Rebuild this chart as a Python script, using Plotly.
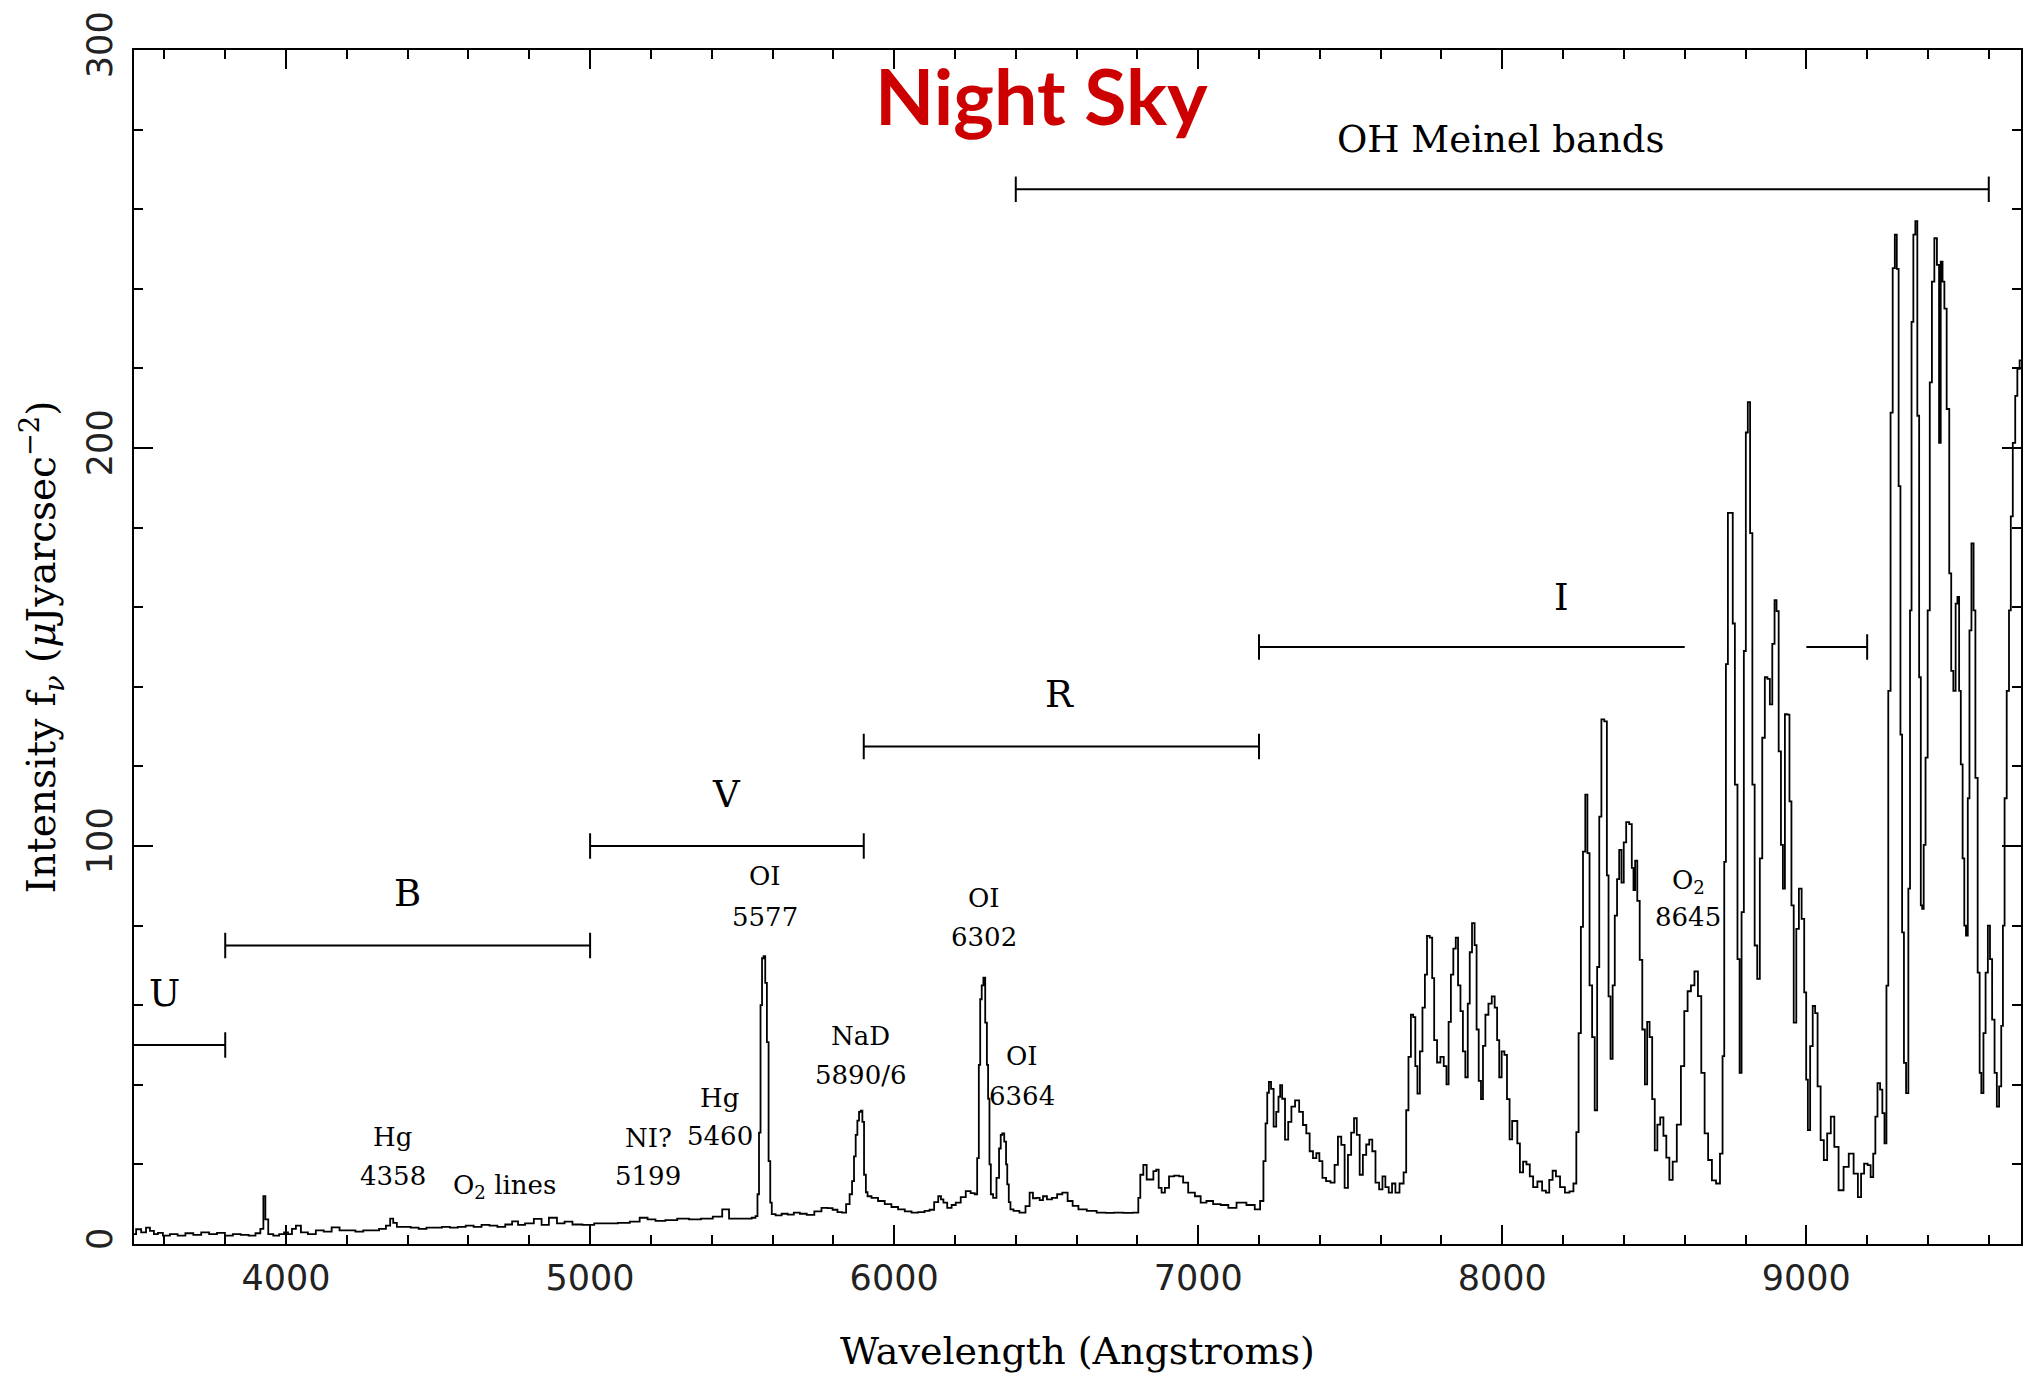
import plotly.graph_objects as go

# ---------------- data ----------------
wavelength = [
    3500, 3514, 3533, 3546, 3559, 3572, 3585, 3605, 3631, 3656, 3682, 3708, 3734, 3760, 3786, 3812,
    3838, 3864, 3890, 3909, 3922, 3929, 3935, 3948, 3968, 3987, 4000, 4013, 4026, 4039, 4059, 4085,
    4111, 4137, 4163, 4189, 4215, 4241, 4267, 4293, 4319, 4338, 4347, 4358, 4371, 4397, 4423, 4449,
    4475, 4500, 4526, 4552, 4578, 4604, 4630, 4656, 4682, 4708, 4734, 4753, 4773, 4799, 4831, 4850,
    4879, 4903, 4929, 4955, 4994, 5033, 5072, 5111, 5150, 5176, 5202, 5228, 5267, 5306, 5345, 5384,
    5423, 5446, 5468, 5500,
    5523, 5540, 5548, 5553, 5558, 5563, 5568, 5573, 5579, 5584, 5590, 5595, 5600, 5620, 5640, 5660,
    5680, 5700, 5725, 5750, 5772, 5790, 5805, 5822, 5835, 5849, 5858, 5865, 5871, 5876, 5882, 5887,
    5893, 5898, 5904, 5910, 5915, 5936, 5958, 5980, 6002, 6024, 6046, 6068, 6090, 6110, 6123, 6140,
    6150, 6158, 6166, 6183, 6195, 6210, 6228, 6243, 6260, 6270, 6276, 6281, 6285, 6291, 6296, 6303,
    6307, 6311, 6316, 6320, 6331, 6342, 6348, 6353, 6358, 6366, 6370, 6374, 6380, 6385, 6400, 6424,
    6440, 6451, 6462, 6473, 6484, 6495, 6510, 6528, 6544,
    6562, 6579, 6595, 6617, 6650, 6682, 6710, 6737, 6770, 6801, 6805, 6814, 6825, 6836, 6847, 6858,
    6866, 6874, 6885, 6896, 6912, 6930, 6945, 6956, 6978, 7000, 7016, 7038, 7060, 7088, 7110, 7142,
    7175, 7197, 7210, 7219, 7224, 7230, 7235, 7244, 7252, 7261, 7267, 7272, 7280, 7291, 7301, 7312,
    7325, 7339, 7350, 7361, 7372, 7383, 7394, 7403, 7414, 7427, 7443, 7454, 7465, 7476, 7487, 7498,
    7508, 7517, 7526, 7536, 7547, 7558, 7567, 7578, 7588, 7602,
    7610, 7621, 7632, 7643, 7654, 7670, 7681, 7687, 7696, 7703, 7711, 7717, 7725, 7733, 7742, 7749,
    7756, 7767, 7772, 7780, 7791, 7802, 7813, 7820, 7827, 7835, 7843, 7851, 7858, 7867, 7874, 7883,
    7890, 7896, 7905, 7913, 7918, 7927, 7933, 7940, 7949, 7960, 7971, 7979, 7987, 7993, 8003, 8011,
    8020, 8028, 8037, 8046, 8053, 8063, 8074, 8085, 8096, 8107, 8124, 8138, 8149, 8160, 8171, 8182,
    8198, 8214, 8228, 8240, 8247, 8255, 8262, 8269, 8277, 8283, 8291, 8300, 8308, 8316, 8322, 8330,
    8341, 8347, 8352, 8360, 8366, 8374, 8381, 8388, 8396, 8403, 8412, 8423, 8429, 8434, 8440, 8448,
    8456, 8465, 8473, 8480, 8489, 8497, 8506, 8514, 8525, 8535, 8544, 8555, 8566, 8582, 8593, 8604,
    8615, 8626, 8638,
    8649, 8660, 8671, 8683, 8696, 8710, 8722, 8727, 8733, 8738, 8746, 8755, 8761, 8769, 8778, 8783,
    8791, 8798, 8804, 8811, 8819, 8826, 8834, 8843, 8851, 8859, 8868, 8876, 8884, 8892, 8899, 8905,
    8913, 8920, 8926, 8933, 8941, 8948, 8954, 8963, 8971, 8980, 8989, 8997, 9002, 9008, 9017, 9025,
    9033, 9041, 9053, 9062, 9075, 9086, 9098, 9114, 9131, 9148, 9163, 9176,
    9184, 9196, 9207, 9216, 9224, 9230, 9238, 9247, 9253, 9261, 9266, 9273, 9281, 9287, 9295, 9300,
    9307, 9312, 9318, 9324, 9332, 9339, 9343, 9349, 9355, 9362, 9368, 9374, 9379, 9383, 9389, 9395,
    9403, 9409, 9417, 9425, 9434, 9439, 9445, 9451, 9457, 9466, 9474, 9479, 9488, 9494, 9500, 9505,
    9511, 9517, 9522, 9528, 9534, 9539, 9547, 9553, 9559, 9568, 9572, 9579, 9586, 9593, 9601, 9607,
    9615, 9623, 9630, 9638, 9644, 9649, 9655, 9663, 9670, 9675, 9683, 9691, 9697, 9706,
]
intensity = [
    2.5, 3.7, 2.9, 4.1, 3.3, 2.5, 2.8, 2.1, 2.5, 2.1, 2.7, 2.3, 2.9, 2.5, 2.8, 2.1,
    2.5, 2.3, 2.1, 2.7, 3.8, 12.0, 6.2, 2.5, 2.1, 2.5, 2.9, 2.5, 3.8, 4.6, 2.9, 2.5,
    3.4, 3.1, 4.2, 3.4, 3.4, 3.1, 3.4, 3.4, 3.8, 4.6, 6.4, 5.3, 4.3, 4.3, 4.1, 3.8,
    4.1, 4.1, 4.3, 4.1, 4.3, 4.6, 4.3, 4.8, 4.6, 4.3, 4.9, 5.7, 4.8, 5.2, 6.3, 4.8,
    6.6, 5.2, 5.6, 4.9, 4.8, 5.2, 5.2, 5.3, 5.6, 6.6, 6.2, 5.8, 6.0, 6.4, 6.2, 6.4,
    6.9, 8.7, 6.4, 6.4,
    6.4, 6.6, 7.0, 12.5, 28.0, 60.0, 71.8, 72.3, 65.6, 50.7, 20.8, 10.4, 7.5, 7.2, 7.6, 7.4,
    7.9, 7.6, 7.3, 8.2, 9.1, 9.0, 8.6, 8.0, 7.9, 10.0, 12.5, 15.8, 22.0, 27.4, 31.0, 33.2,
    33.5, 30.7, 17.4, 13.0, 12.0, 11.6, 10.8, 10.0, 9.3, 8.7, 8.2, 7.9, 8.0, 8.3, 8.6, 10.5,
    12.0, 11.2, 10.4, 9.1, 9.8, 10.4, 11.8, 13.3, 12.8, 12.5, 21.6, 45.0, 61.5, 65.0, 66.9, 55.6,
    45.0, 36.5, 20.0, 12.5, 11.6, 16.6, 24.0, 27.4, 27.8, 25.7, 20.0, 15.0, 10.5, 8.7, 8.3, 7.9,
    9.5, 12.9, 11.5, 11.6, 11.0, 12.0, 11.2, 11.6, 12.5,
    12.9, 10.8, 9.6, 8.7, 8.3, 7.9, 7.8, 7.9, 7.8, 7.9, 11.6, 17.4, 19.9, 16.2, 16.2, 18.3,
    18.7, 14.1, 12.9, 14.1, 17.0, 17.2, 17.0, 15.4, 12.9, 12.0, 10.4, 10.8, 10.0, 9.8, 9.1, 10.4,
    9.8, 8.7, 10.8, 20.8, 30.3, 38.0, 40.7, 39.0, 29.5, 33.2, 37.0, 39.9, 36.5, 26.2, 30.7, 34.5,
    36.1, 33.2, 29.9, 27.8, 23.3, 21.6, 22.8, 20.8, 16.6, 15.8, 15.4, 19.9, 27.0, 24.9, 14.1, 22.4,
    28.0, 31.6, 27.4, 17.4, 22.4, 25.0, 26.2, 23.3, 15.4, 13.7,
    17.0, 14.3, 12.9, 15.2, 12.9, 15.2, 18.0, 33.6, 47.0, 57.6, 57.0, 44.7, 37.8, 48.4, 59.4, 67.7,
    77.4, 77.0, 66.8, 51.2, 45.6, 47.0, 44.7, 40.1, 55.8, 67.7, 74.2, 77.0, 65.0, 58.5, 48.4, 41.9,
    60.4, 73.3, 80.6, 75.1, 53.9, 41.0, 36.4, 49.8, 57.6, 60.4, 62.2, 59.4, 51.2, 41.9, 48.4, 47.5,
    36.4, 26.3, 30.9, 30.9, 25.3, 18.0, 20.7, 20.0, 17.0, 14.3, 15.7, 13.4, 12.9, 16.1, 18.4, 17.0,
    14.3, 12.9, 13.2, 15.2, 28.1, 53.0, 79.7, 98.6, 112.9, 98.2, 65.0, 52.0, 33.6, 69.6, 107.4, 131.8,
    131.3, 92.6, 62.2, 46.5, 65.0, 82.5, 91.7, 99.0, 90.8, 100.9, 106.0, 105.5, 94.5, 88.9, 96.3, 86.2,
    71.4, 53.9, 40.1, 55.8, 52.0, 36.4, 23.5, 30.0, 31.8, 27.2, 21.7, 16.1, 20.7, 30.0, 44.7, 58.5,
    63.5, 65.0, 68.5,
    62.3, 43.0, 27.8, 21.1, 16.0, 15.2, 22.7, 47.2, 96.0, 145.7, 183.7, 183.7, 155.9, 115.4, 71.6, 43.0,
    83.4, 149.0, 203.9, 211.5, 178.6, 115.4, 75.0, 66.6, 96.9, 127.2, 142.4, 142.0, 135.6, 150.8, 161.8, 159.0,
    123.8, 100.3, 89.3, 133.1, 133.0, 111.2, 85.1, 55.6, 79.2, 89.3, 81.7, 63.2, 41.3, 28.6, 49.7, 59.8,
    58.0, 39.6, 26.1, 21.1, 27.8, 32.0, 24.4, 13.5, 19.4, 22.7, 17.7, 11.8,
    17.7, 20.2, 19.8, 16.8, 22.7, 32.0, 40.4, 38.8, 32.9, 25.3, 64.9, 139.0, 208.9, 245.2, 253.6, 245.0,
    190.4, 128.0, 78.3, 45.5, 37.9, 89.3, 159.2, 231.7, 253.6, 257.0, 208.1, 142.4, 85.1, 84.2, 100.3, 122.2,
    159.2, 216.5, 241.8, 252.7, 246.0, 201.3, 246.8, 241.8, 235.0, 209.8, 168.5, 144.0, 139.0, 160.9, 162.6, 139.0,
    120.5, 96.9, 80.0, 77.5, 112.0, 154.2, 176.0, 159.2, 117.1, 68.2, 43.0, 37.9, 53.0, 68.2, 80.0, 71.6,
    56.4, 43.0, 34.5, 39.6, 54.8, 80.0, 112.0, 139.0, 159.2, 182.8, 201.3, 213.1, 219.9, 222.0,
]

# photometric bands / OH region bars
band_start = [3500, 3800, 5000, 5900, 7200, 9000, 6400]
band_end = [3800, 5000, 5900, 7200, 8600, 9200, 9600]
band_level = [50, 75, 100, 125, 150, 150, 265]
band_cap_start = [False, True, True, True, True, False, True]
band_cap_end = [True, True, True, True, False, True, True]

band_names = ["U", "B", "V", "R", "I", "OH Meinel bands"]
band_name_x = [3600, 4400, 5450, 6545, 8195, 7995]
band_name_y = [63, 88, 113, 138, 162.5, 277.5]

# emission-line identifications (two rows each)
line_names = ["Hg", "NI?", "Hg", "OI", "NaD", "OI", "OI", "O<sub>2</sub>"]
line_waves = ["4358", "5199", "5460", "5577", "5890/6", "6302", "6364", "8645"]
line_label_x = [4351, 5192, 5426, 5574, 5889, 6296, 6421, 8612]
line_name_y = [27.0, 26.7, 36.6, 92.4, 52.3, 87.0, 47.3, 91.2]
line_wave_y = [17.0, 17.0, 27.2, 82.2, 42.4, 77.2, 37.1, 82.2]

o2_text = "O<sub>2</sub> lines"
o2_x, o2_y = 4717, 14.5

x_range = [3500, 9706]
y_range = [0, 300]

# ---------------- figure ----------------
fig = go.Figure()
fig.add_trace(go.Scatter(
    x=wavelength, y=intensity, mode="lines",
    line=dict(color="black", width=1.8, shape="hvh"),
    hoverinfo="x+y", showlegend=False,
))

cap_half = 3.2
for x0, x1, yv, c0, c1 in zip(band_start, band_end, band_level, band_cap_start, band_cap_end):
    fig.add_shape(type="line", xref="x", yref="y", x0=x0, x1=x1, y0=yv, y1=yv,
                  line=dict(color="black", width=2))
    if c0:
        fig.add_shape(type="line", xref="x", yref="y", x0=x0, x1=x0,
                      y0=yv - cap_half, y1=yv + cap_half, line=dict(color="black", width=2))
    if c1:
        fig.add_shape(type="line", xref="x", yref="y", x0=x1, x1=x1,
                      y0=yv - cap_half, y1=yv + cap_half, line=dict(color="black", width=2))

serif = "DejaVu Serif"
for t, x, y in zip(band_names, band_name_x, band_name_y):
    fig.add_annotation(x=x, y=y, xref="x", yref="y", text=t, showarrow=False,
                       font=dict(family=serif, size=37, color="black"),
                       xanchor="center", yanchor="middle")

for n, w, x, yn, yw in zip(line_names, line_waves, line_label_x, line_name_y, line_wave_y):
    fig.add_annotation(x=x, y=yn, xref="x", yref="y", text=n, showarrow=False,
                       font=dict(family=serif, size=26, color="black"),
                       xanchor="center", yanchor="middle")
    fig.add_annotation(x=x, y=yw, xref="x", yref="y", text=w, showarrow=False,
                       font=dict(family=serif, size=26, color="black"),
                       xanchor="center", yanchor="middle")

fig.add_annotation(x=o2_x, y=o2_y, xref="x", yref="y", text=o2_text, showarrow=False,
                   font=dict(family=serif, size=26, color="black"),
                   xanchor="center", yanchor="middle")

fig.add_annotation(x=0.481, y=0.962, xref="paper", yref="paper", text="<b>Night Sky</b>",
                   showarrow=False, font=dict(family="Lato", size=77, color="#CC0000"),
                   xanchor="center", yanchor="middle")

axis_common = dict(
    showline=True, linecolor="black", linewidth=2, mirror="ticks",
    ticks="inside", tickcolor="black", tickwidth=2,
    showgrid=False, zeroline=False,
    tickfont=dict(family="DejaVu Sans", size=35, color="#222222"),
)

fig.update_xaxes(
    range=x_range, tick0=0, dtick=1000, ticklen=19,
    minor=dict(dtick=200, ticklen=9, ticks="inside", tickcolor="black", tickwidth=2, showgrid=False),
    title=dict(text="Wavelength (Angstroms)", font=dict(family=serif, size=38, color="black"), standoff=40),
    ticklabelstandoff=2,
    **axis_common,
)
fig.update_yaxes(
    range=y_range, tick0=0, dtick=100, ticklen=19, tickangle=-90,
    minor=dict(dtick=20, ticklen=9, ticks="inside", tickcolor="black", tickwidth=2, showgrid=False),
    title=dict(text="Intensity f<sub><i>ν</i></sub> (<i>μ</i>Jyarcsec<sup>−2</sup>)",
               font=dict(family=serif, size=39, color="black"), standoff=12),
    ticklabelstandoff=6,
    **axis_common,
)

fig.update_layout(
    width=2034, height=1376,
    margin=dict(l=134, r=11, t=43, b=129),
    paper_bgcolor="white", plot_bgcolor="white",
    showlegend=False,
)

fig.write_html("out.html")
